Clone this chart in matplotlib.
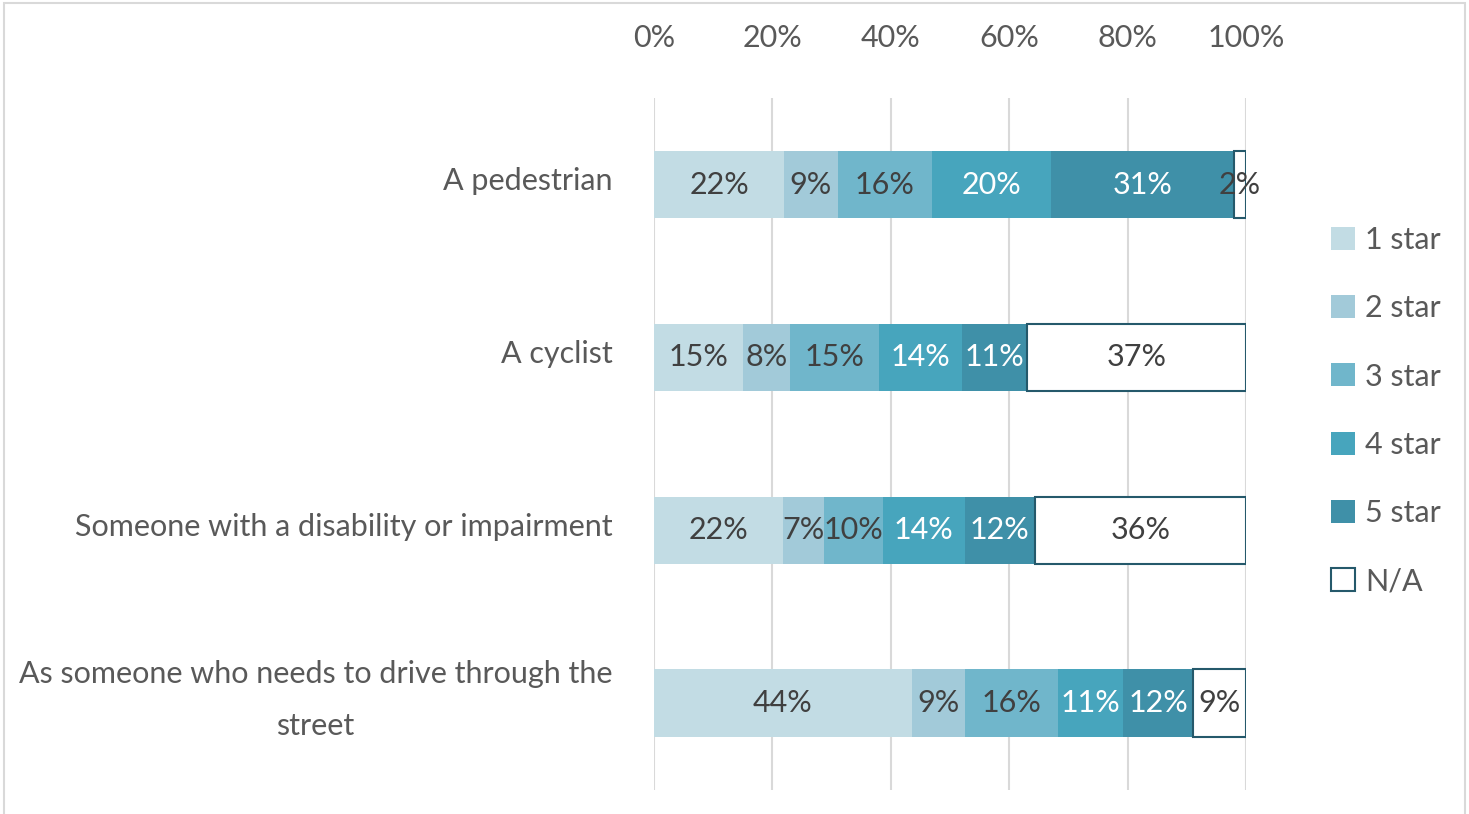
import numpy as np
import matplotlib.pyplot as plt
from matplotlib.patches import Rectangle
from matplotlib.transforms import ScaledTranslation

plt.rcParams['font.family'] = ['Lato', 'DejaVu Sans']

categories = ['A pedestrian', 'A cyclist', 'Someone with a disability or impairment',
              'As someone who needs to drive through the\nstreet']
series = ['1 star', '2 star', '3 star', '4 star', '5 star', 'N/A']
values = np.array([
    [22, 9, 16, 20, 31, 2],
    [15, 8, 15, 14, 11, 37],
    [22, 7, 10, 14, 12, 36],
    [44, 9, 16, 11, 12, 9],
], dtype=float)
ticks = [0, 20, 40, 60, 80, 100]

colors = ['#C2DCE4', '#A2CAD9', '#70B6CB', '#47A5BD', '#3F90A8', 'white']
label_colors = ['#404040', '#404040', '#404040', 'white', 'white', '#404040']
txt = '#595959'
fs = 22

# 100% stacked
shares = values / values.sum(axis=1, keepdims=True) * 100

fig = plt.figure(figsize=(14.69, 8.14), dpi=100)
ax = fig.add_axes([0.4452, 0.0295, 0.4030, 0.8501])

y = np.arange(len(categories))
left = np.zeros(len(categories))
for i, name in enumerate(series):
    if name == 'N/A':
        ax.barh(y, shares[:, i], left=left, height=0.393, color=colors[i],
                edgecolor='#25596B', linewidth=1.5, label=name, zorder=3)
    else:
        ax.barh(y, shares[:, i], left=left, height=0.393, color=colors[i],
                linewidth=0, label=name, zorder=3)
    for j in range(len(categories)):
        ax.text(left[j] + shares[j, i] / 2, y[j], '%d%%' % values[j, i],
                ha='center', va='center', fontsize=fs, color=label_colors[i], zorder=4)
    left += shares[:, i]

ax.set_xlim(0, 100)
ax.set_ylim(3.5, -0.5)
ax.set_xticks(ticks)
ax.set_xticklabels(['%d%%' % t for t in ticks])
ax.xaxis.tick_top()
ax.tick_params(axis='x', length=0, pad=33, labelsize=fs, labelcolor=txt)
ax.set_yticks(y)
ax.set_yticklabels(categories)
ax.tick_params(axis='y', length=0, pad=30, labelsize=fs, labelcolor=txt)
for lab in ax.get_yticklabels():
    dy = 6 / 100
    if '\n' in lab.get_text():
        dy = 18 / 100
    lab.set_multialignment('center')
    lab.set_linespacing(2.05)
    lab.set_transform(lab.get_transform() + ScaledTranslation(0, dy, fig.dpi_scale_trans))
ax.grid(axis='x', color='#D9D9D9', linewidth=1.5, zorder=0)
for s in ax.spines.values():
    s.set_visible(False)

leg = ax.legend(loc='upper left', bbox_to_anchor=(1.0966, 0.855), frameon=False,
                fontsize=fs, labelcolor=txt, handlelength=0.78, handleheight=0.78,
                handletextpad=0.34, labelspacing=1.32)

fig.patches.append(Rectangle((0.003, -0.01), 0.994, 1.006, transform=fig.transFigure,
                             fill=False, edgecolor='#D9D9D9', linewidth=1.5))

plt.savefig('out.png', dpi=100)
